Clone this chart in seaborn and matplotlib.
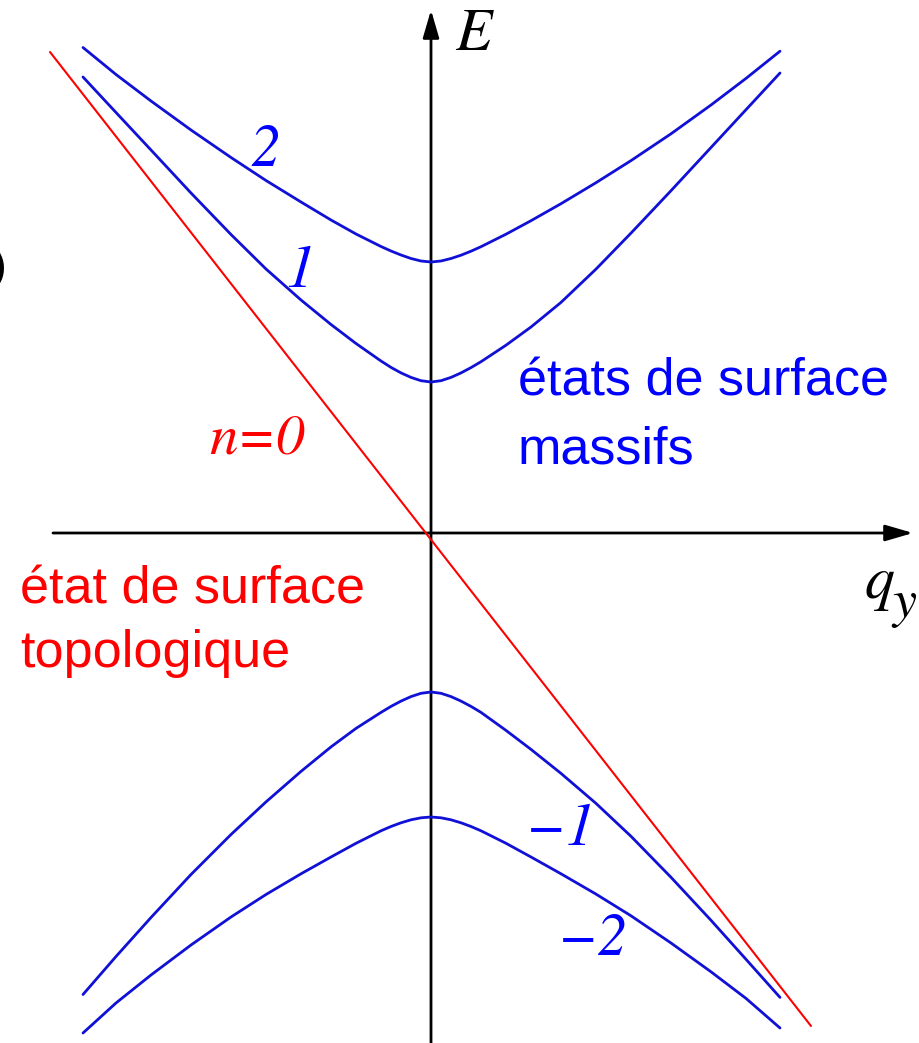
import matplotlib
matplotlib.use("Agg")
import matplotlib.pyplot as plt
import pandas as pd
import seaborn as sns

# Surface sub-bands E_n(q_y), arbitrary units
q_n2 = [-3.48, -3.15, -2.8, -2.4, -2.0, -1.65, -1.3, -1.0, -0.75, -0.5, -0.4, -0.3, -0.2, -0.1,
        0.0, 0.1, 0.2, 0.3, 0.4, 0.5, 0.75, 1.0, 1.3, 1.65, 2.0, 2.4, 2.8, 3.15, 3.49]
E_n2 = [4.855, 4.585, 4.32, 4.03, 3.755, 3.525, 3.31, 3.13, 2.99, 2.865, 2.82, 2.78, 2.745, 2.72,
        2.71, 2.72, 2.745, 2.778, 2.818, 2.863, 2.988, 3.123, 3.293, 3.503, 3.724, 3.992, 4.28,
        4.546, 4.818]

q_n1 = [-3.48, -3.15, -2.8, -2.4, -2.0, -1.65, -1.3, -1.0, -0.75, -0.5, -0.4, -0.3, -0.2, -0.1,
        0.0, 0.1, 0.2, 0.3, 0.4, 0.5, 0.75, 1.0, 1.3, 1.65, 2.0, 2.4, 2.8, 3.15, 3.49]
E_n1 = [4.56, 4.205, 3.83, 3.40, 2.985, 2.64, 2.33, 2.085, 1.895, 1.72, 1.656, 1.601, 1.556, 1.523,
        1.51, 1.523, 1.556, 1.601, 1.654, 1.713, 1.878, 2.06, 2.306, 2.639, 2.999, 3.423, 3.855,
        4.233, 4.60]

q_m1 = [-3.48, -3.15, -2.8, -2.4, -2.0, -1.65, -1.3, -1.0, -0.75, -0.5, -0.4, -0.3, -0.2, -0.1,
        0.0, 0.1, 0.2, 0.3, 0.4, 0.5, 0.75, 1.0, 1.3, 1.65, 2.0, 2.4, 2.8, 3.15, 3.49]
E_m1 = [-4.615, -4.235, -3.845, -3.415, -3.015, -2.689, -2.384, -2.139, -1.954, -1.794, -1.734,
        -1.681, -1.636, -1.603, -1.59, -1.603, -1.636, -1.681, -1.734, -1.794, -1.974, -2.164,
        -2.404, -2.704, -3.033, -3.443, -3.873, -4.263, -4.644]

q_m2 = [-3.48, -3.15, -2.8, -2.4, -2.0, -1.65, -1.3, -1.0, -0.75, -0.5, -0.4, -0.3, -0.2, -0.1,
        0.0, 0.1, 0.2, 0.3, 0.4, 0.5, 0.75, 1.0, 1.3, 1.65, 2.0, 2.4, 2.8, 3.15, 3.49]
E_m2 = [-5.00, -4.70, -4.42, -4.12, -3.84, -3.615, -3.408, -3.24, -3.103, -2.978, -2.935, -2.898,
        -2.868, -2.848, -2.84, -2.848, -2.868, -2.898, -2.935, -2.978, -3.103, -3.24, -3.408,
        -3.611, -3.828, -4.10, -4.388, -4.654, -4.95]

# Topological (chiral) surface state n = 0
q_n0 = [-3.81, 3.80]
E_n0 = [4.81, -4.93]

band_labels = ["2", "1", "\u22121", "\u22122"]
zero_label = "n=0"
bulk_text = ["états de surface", "massifs"]
topo_text = ["état de surface", "topologique"]

BLUE_LINE = "#1010d6"
BLUE = "#0000ff"
RED = "#ff0000"

sns.set_theme(style="white")
plt.rcParams["font.family"] = ["Liberation Sans", "DejaVu Sans"]
plt.rcParams["mathtext.fontset"] = "stix"

fig = plt.figure(figsize=(9.2, 10.43), dpi=100)
ax = fig.add_axes([0, 0, 1, 1])
ax.set_xlim(-4.31, 4.89)
ax.set_ylim(-5.10, 5.33)
ax.axis("off")


def px(x, y):
    """Figure pixel position (from top-left) to data coordinates."""
    return (x - 431) / 100.0, (533 - y) / 100.0


# Coordinate axes with arrow heads
arrow_kw = dict(arrowstyle="-|>,head_length=1.3,head_width=0.38", color="black",
                lw=2.0, mutation_scale=13, shrinkA=0, shrinkB=0)
ax.annotate("", xy=px(913, 533), xytext=px(53, 533), arrowprops=arrow_kw, zorder=1)
ax.annotate("", xy=px(431, 10), xytext=px(431, 1050), arrowprops=arrow_kw, zorder=1)

# Massive surface bands
for q, E in [(q_n2, E_n2), (q_n1, E_n1), (q_m1, E_m1), (q_m2, E_m2)]:
    df = pd.DataFrame({"q": q, "E": E})
    sns.lineplot(data=df, x="q", y="E", ax=ax, color=BLUE_LINE, lw=2.0,
                 sort=False, estimator=None, zorder=3)
# Topological band
sns.lineplot(x=q_n0, y=E_n0, ax=ax, color=RED, lw=1.5, sort=False,
             estimator=None, zorder=2)

serif = dict(family="STIXGeneral", style="italic", fontsize=43)
for lab, (x, y) in zip(band_labels, [(265, 166), (300, 287), (561, 845), (593, 955)]):
    ax.text(*px(x, y), lab, color=BLUE, ha="center", va="baseline", **serif)
ax.text(*px(257, 453), zero_label, color=RED, ha="center", va="baseline",
        family="STIXGeneral", style="italic", fontsize=41)
ax.text(*px(473, 50), "E", color="black", ha="center", va="baseline", **serif)
ax.text(*px(865, 598), "q", color="black", ha="left", va="baseline", **serif)
ax.text(*px(892, 617), "y", color="black", ha="left", va="baseline",
        family="STIXGeneral", style="italic", fontsize=39)
ax.text(*px(6, 282), ")", color="black", ha="right", va="baseline",
        family="STIXGeneral", fontsize=43)

sans = dict(fontsize=37.5, family=["Liberation Sans", "DejaVu Sans"])
ax.text(*px(518, 395), bulk_text[0], color=BLUE, ha="left", va="baseline", **sans)
ax.text(*px(518, 463), bulk_text[1], color=BLUE, ha="left", va="baseline", **sans)
ax.text(*px(20, 603), topo_text[0], color=RED, ha="left", va="baseline", **sans)
ax.text(*px(20, 667), topo_text[1], color=RED, ha="left", va="baseline", **sans)

fig.savefig("out.png", dpi=100, facecolor="white")
